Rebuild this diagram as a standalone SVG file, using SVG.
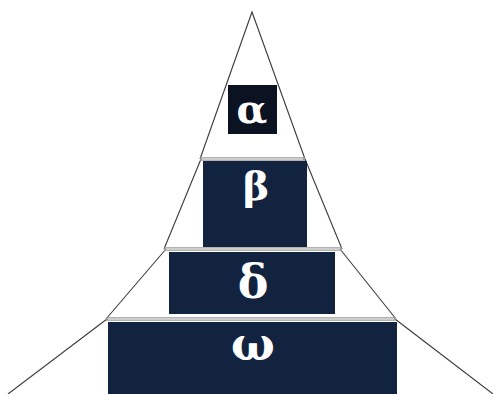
<svg xmlns="http://www.w3.org/2000/svg" width="493" height="394" viewBox="0 0 493 394">
<style>
.side{fill:none;stroke:#3a3a3a;stroke-width:1.1}
.base{stroke:#9a9a9a;stroke-width:3.4}
.basein{stroke:#ffffff;stroke-width:1.2}
.box{fill:#12233f}
.lbl{fill:#ffffff;font-family:"DejaVu Serif","Liberation Serif",serif;font-weight:bold;text-anchor:middle}
</style>
<rect width="493" height="394" fill="#ffffff"/>
<g id="connectors">
<polyline class="side" points="200,159 252,12 305,159"/>
<polyline class="side" points="164,249 201,159"/>
<polyline class="side" points="342,249 305,159"/>
<polyline class="side" points="106,319 166,249"/>
<polyline class="side" points="396,319 340,249"/>
<polyline class="side" points="8,394 107,319"/>
<polyline class="side" points="493,394 395,319"/>
<line class="base" x1="200" y1="159" x2="305" y2="159"/>
<line class="basein" x1="202" y1="159" x2="303" y2="159"/>
<line class="base" x1="164" y1="249" x2="342" y2="249"/>
<line class="basein" x1="166" y1="249" x2="340" y2="249"/>
<line class="base" x1="106" y1="319" x2="396" y2="319"/>
<line class="basein" x1="108" y1="319" x2="394" y2="319"/>
</g>
<g id="alpha">
<rect x="228" y="85" width="49" height="49" style="fill:#0b1322"/>
<text class="lbl" x="252" y="123" font-size="40">α</text>
</g>
<g id="beta">
<rect class="box" x="203" y="161" width="104" height="86"/>
<text class="lbl" x="256" y="200" font-size="40">β</text>
</g>
<g id="delta">
<rect class="box" x="169" y="252" width="166" height="62"/>
<text class="lbl" x="253" y="298" font-size="46">δ</text>
</g>
<g id="omega">
<rect class="box" x="108" y="322" width="289" height="72"/>
<text class="lbl" x="253" y="360" font-size="46">ω</text>
</g>
</svg>
